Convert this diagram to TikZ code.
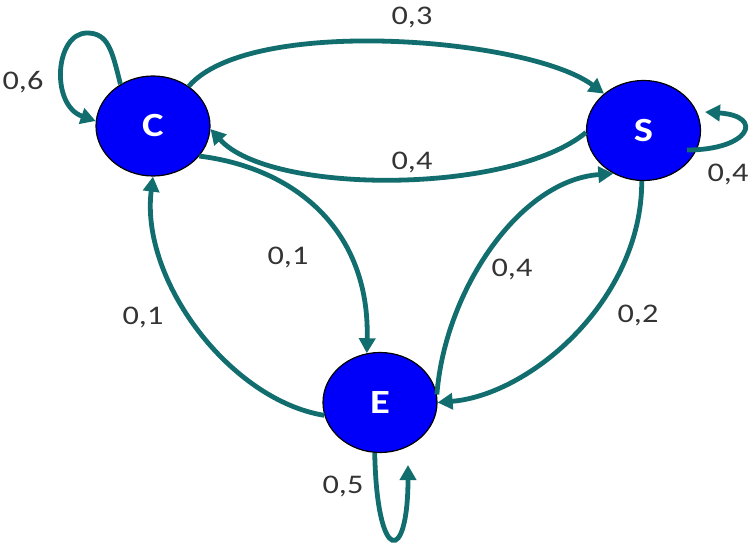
\documentclass[tikz,border=0pt]{standalone}
\usepackage{fontspec}
\setmainfont{Carlito}
\newfontfamily\labfont[FakeStretch=1.2]{Carlito}
\newfontfamily\statefont[FakeStretch=1.2]{Carlito}
\usetikzlibrary{arrows.meta,shapes.geometric}
\definecolor{tealline}{RGB}{18,110,110}
\definecolor{labgray}{RGB}{52,52,52}
\definecolor{nodeblue}{RGB}{0,0,250}
\begin{document}
\begin{tikzpicture}[x=1bp,y=-1bp,
  state/.style={ellipse, draw=black, line width=1.2bp, fill=nodeblue,
    minimum width=114bp, minimum height=100bp, inner sep=0pt, text=white,
    font=\statefont\bfseries\fontsize{34}{38}\selectfont},
  edge/.style={draw=tealline, line width=4.8bp, -{Triangle[length=15bp,width=16bp]}},
  lab/.style={text=labgray, font=\labfont\fontsize{27}{30}\selectfont, anchor=base, inner sep=0pt}]
\useasboundingbox (0,0) rectangle (754,548);
\node[state] (C) at (153,126) {C};
\node[state] (S) at (643.5,130.5) {S};
\node[state] (E) at (380,402.5) {E};
\coordinate (sa) at (687,150);
\coordinate (sb) at (705,112);
\coordinate (eb) at (408,465);

\draw[edge] (C.48) .. controls (250,15) and (530,38) .. (S.137);
\draw[edge] (S.182) .. controls (510,195) and (270,195) .. (C.-3);
\draw[edge] (C.-33) .. controls (295,168) and (370,230) .. (E.105);
\draw[edge] (E.193) .. controls (230,400) and (140,280) .. (C.-90);
\draw[edge] (E.8) .. controls (445,290) and (520,180) .. (S.-125);
\draw[edge] (S.-92) .. controls (642,300) and (530,395) .. (E.0);
\draw[edge] (C.128) .. controls (112,50) and (108,33) .. (87,33) .. controls (55,33) and (50,105) .. (C.175);
\draw[edge] (sa) .. controls (750,150) and (765,116) .. (sb);
\draw[edge] (E.-96) .. controls (377,565) and (408,565) .. (eb);

\node[lab] (l03) at (412,25) {0,3};
\node[lab] (l04a) at (412,170) {0,4};
\node[lab] (l06) at (23,90) {0,6};
\node[lab] (l04s) at (728,182) {0,4};
\node[lab] (l01a) at (288,265) {0,1};
\node[lab] (l01b) at (143,324) {0,1};
\node[lab] (l04b) at (512,277) {0,4};
\node[lab] (l02) at (638,322) {0,2};
\node[lab] (l05) at (343,493) {0,5};
\end{tikzpicture}
\end{document}
